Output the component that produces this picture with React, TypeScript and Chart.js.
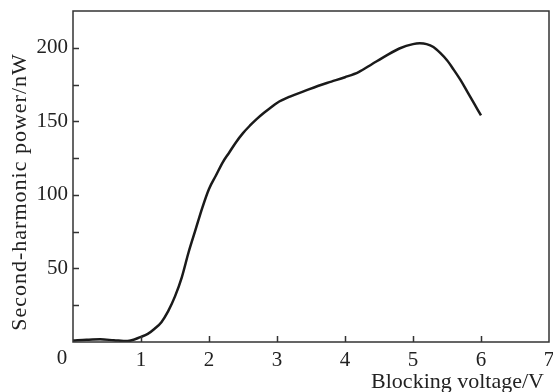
import React, { useEffect, useRef } from 'react';
import { Chart, registerables } from 'chart.js';

Chart.register(...registerables);

const voltage = [0, 0.2, 0.4, 0.6, 0.8, 1.0, 1.1, 1.2, 1.3, 1.4, 1.5, 1.6, 1.7, 1.8, 1.9, 2.0, 2.1, 2.2, 2.3, 2.4, 2.5, 2.6, 2.7, 2.8, 2.9, 3.0, 3.2, 3.4, 3.6, 3.8, 4.0, 4.2, 4.4, 4.6, 4.8, 5.0, 5.1, 5.2, 5.3, 5.4, 5.5, 5.6, 5.7, 5.8, 5.9, 6.0];
const power = [1, 1.5, 1.8, 1.2, 0.6, 3.5, 5.5, 9, 13.5, 21, 31, 44, 61, 76, 91, 104, 113, 122, 129, 136, 142, 147, 151.5, 155.5, 159, 162.5, 167, 170.5, 174, 177, 180, 183.5, 189, 194.5, 199.5, 202.5, 203, 202.5, 200.5, 196.5, 191.5, 185, 178, 170, 162, 154];

const xMin = 0;
const xMax = 7;
const yMin = 0;
const yMax = 225;
const xInnerTicks = [1, 2, 3, 4, 5, 6];
const yInnerTicks = [25, 50, 75, 100, 125, 150, 175, 200];
const yLabelled = [50, 100, 150, 200];
const xTitle = 'Blocking voltage/V';
const yTitle = 'Second-harmonic power/nW';
const originLabel = '0';

const FONT = '"Liberation Serif", "Times New Roman", serif';
const INK = '#222222';

export default function App() {
  const ref = useRef<HTMLCanvasElement>(null);

  useEffect(() => {
    if (!ref.current) return;

    const decor = {
      id: 'decor',
      afterDraw(chart: any) {
        const { ctx, chartArea: a, scales } = chart;
        const xs = scales.x;
        const ys = scales.y;
        ctx.save();
        ctx.strokeStyle = '#333333';
        ctx.lineWidth = 1.5;
        ctx.strokeRect(a.left, a.top, a.right - a.left, a.bottom - a.top);
        ctx.beginPath();
        for (const v of xInnerTicks) {
          const px = Math.round(xs.getPixelForValue(v)) + 0.5;
          ctx.moveTo(px, a.bottom);
          ctx.lineTo(px, a.bottom - 6);
        }
        for (const v of yInnerTicks) {
          const py = Math.round(ys.getPixelForValue(v)) + 0.5;
          ctx.moveTo(a.left, py);
          ctx.lineTo(a.left + 6, py);
        }
        ctx.stroke();

        ctx.fillStyle = INK;
        ctx.font = `21px ${FONT}`;
        ctx.textAlign = 'center';
        ctx.textBaseline = 'top';
        ctx.fillText(originLabel, xs.getPixelForValue(0) - 11, a.bottom + 6);

        ctx.font = `22px ${FONT}`;
        ctx.textAlign = 'right';
        ctx.textBaseline = 'alphabetic';
        (ctx as any).letterSpacing = '0px';
        ctx.fillText(xTitle, a.right - 5, 388);

        ctx.save();
        ctx.translate(20, 192);
        ctx.rotate(-Math.PI / 2);
        ctx.textAlign = 'center';
        ctx.textBaseline = 'middle';
        (ctx as any).letterSpacing = '1px';
        ctx.fillText(yTitle, 0, 0);
        ctx.restore();
        ctx.restore();
      },
    };

    const chart = new Chart(ref.current, {
      type: 'line',
      data: {
        datasets: [
          {
            data: voltage.map((v, i) => ({ x: v, y: power[i] })),
            borderColor: '#1a1a1a',
            borderWidth: 2.5,
            pointRadius: 0,
            fill: false,
            cubicInterpolationMode: 'monotone',
          },
        ],
      },
      options: {
        animation: false,
        responsive: true,
        maintainAspectRatio: false,
        layout: { padding: { top: 11, right: 4, left: 0, bottom: 0 } },
        plugins: { legend: { display: false }, tooltip: { enabled: false } },
        scales: {
          x: {
            type: 'linear',
            min: xMin,
            max: xMax,
            grid: { display: false, drawTicks: false },
            border: { display: false },
            ticks: {
              stepSize: 1,
              autoSkip: false,
              maxRotation: 0,
              padding: 6,
              color: INK,
              font: { family: FONT, size: 21 },
              callback: (v: any) => (Number(v) === 0 ? '' : String(v)),
            },
            afterFit: (s: any) => {
              s.height = 50;
              s.paddingLeft = 0;
              s.paddingRight = 0;
            },
          },
          y: {
            type: 'linear',
            min: yMin,
            max: yMax,
            grid: { display: false, drawTicks: false },
            border: { display: false },
            ticks: {
              stepSize: 25,
              autoSkip: false,
              padding: 5,
              color: INK,
              font: { family: FONT, size: 21 },
              callback: (v: any) => (yLabelled.includes(Number(v)) ? String(v) : ''),
            },
            afterFit: (s: any) => {
              s.width = 73;
              s.paddingTop = 0;
              s.paddingBottom = 0;
            },
          },
        },
      },
      plugins: [decor],
    });

    return () => chart.destroy();
  }, []);

  return (
    <div style={{ position: 'fixed', left: 0, top: 0, width: 553, height: 392, background: '#fff' }}>
      <canvas ref={ref} />
    </div>
  );
}
